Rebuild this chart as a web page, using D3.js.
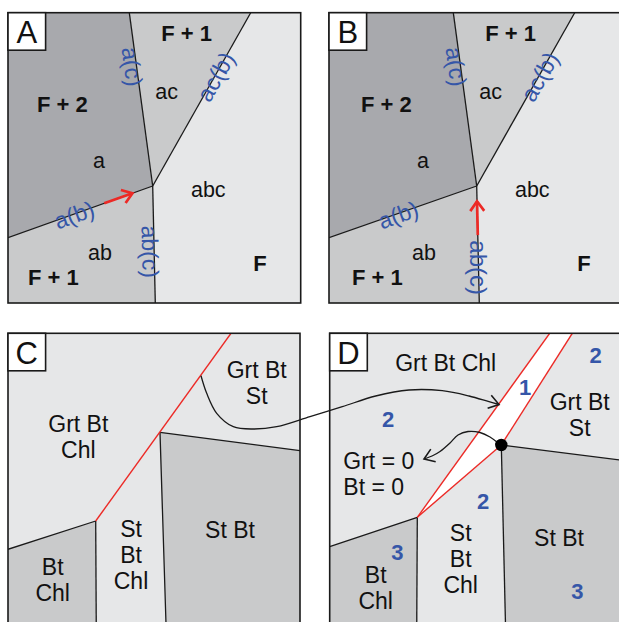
<!DOCTYPE html>
<html><head><meta charset="utf-8">
<script src="https://cdn.jsdelivr.net/npm/d3@7"></script>
<style>html,body{margin:0;padding:0;background:#fff}svg{display:block}</style>
</head><body>
<svg id="fig" width="619" height="622"></svg>
<script>
// ---------- palette ----------
const FILL = {dark: "#a8a9ad", mid: "#c9cacb", light: "#e6e7e8", white: "#ffffff"};
const INK = "#1a1a1a", RED = "#ec2a26", BLUE = "#3556a8";
const FONT = "'Liberation Sans', Arial, Helvetica, sans-serif";

// ---------- panels A and B: invariant point with four fields (local units) ----------
const abPanels = [
  {id: "A", ox: 8,   oy: 12.7, boxLeft: 0,  boxRight: 292.7},
  {id: "B", ox: 332, oy: 12.7, boxLeft: -3, boxRight: 310}
];
const abSize = [292.7, 290.3];
const triplePt = [144.7, 173.3];
const acTop = [121.3, 0];
const acbTop = [242.7, 0];
const abLeft = [0, 225];
const abBottom = [147.3, 290.3];

// field labels (shared by A and B)
const abFieldLabels = [
  {t: "F + 1", x: 178.7, y: 28,    bold: true},
  {t: "F + 2", x: 54.3,  y: 99,    bold: true},
  {t: "a",     x: 91,    y: 155.6, bold: false},
  {t: "ac",    x: 158.7, y: 86.6,  bold: false},
  {t: "abc",   x: 200.3, y: 184,   bold: false},
  {t: "ab",    x: 92,    y: 247.3, bold: false},
  {t: "F + 1", x: 45.3,  y: 272.3, bold: true},
  {t: "F",     x: 252,   y: 258,   bold: true}
];
// reaction labels (centre, angle in degrees, font size)
const abReactionLabels = {
  A: [
    {t: "a(c)",  x: 124.2, y: 54,    a: 82.3,  s: 23},
    {t: "ac(b)", x: 207.8, y: 64,    a: -60.5, s: 23},
    {t: "a(b)",  x: 66.2,  y: 202.3, a: -19.7, s: 23},
    {t: "ab(c)", x: 142,   y: 239,   a: 88.7,  s: 23}
  ],
  B: [
    {t: "a(c)",  x: 124.2, y: 54,    a: 82.3,  s: 23},
    {t: "ac(b)", x: 207.8, y: 64,    a: -60.5, s: 23},
    {t: "a(b)",  x: 66.2,  y: 202.3, a: -19.7, s: 23},
    {t: "ab(c)", x: 146,   y: 255,   a: 90,    s: 24}
  ]
};
// red arrows: segment along a reaction line, given as start/end fractions of it
const abArrows = {
  A: {from: abLeft,   to: triplePt, t0: 0.665, t1: 0.86},
  B: {from: abBottom, to: triplePt, t0: 0.58,  t1: 0.87}
};

// ---------- panel C: Grt-Bt-St-Chl field diagram (local units) ----------
const cOrigin = [8, 333.3];
const cSize = [292, 300];
const cRedTop = [223, 0], cRedBot = [87.7, 187.7];
const cBtChlLeft = [0, 216];
const cVertBot = [88.3, 300];
const cStBtTop = [152, 99], cStBtRight = [292, 117.4], cStBtBot = [158.3, 300];
const cLabels = [
  {lines: ["Grt Bt", "Chl"],     x: 70.3,  y: 98.7},
  {lines: ["Grt Bt", "St"],      x: 248.7, y: 45},
  {lines: ["St", "Bt", "Chl"],   x: 123,   y: 203.4},
  {lines: ["St Bt"],             x: 222,   y: 204.4},
  {lines: ["Bt", "Chl"],         x: 44.7,  y: 241.7}
];

// ---------- panel D: same diagram with the Grt+Bt-absent strip (local units) ----------
const dOrigin = [329.7, 333.3];
const dSize = [292, 300];
const dRedLTop = [220, 0], dRedRTop = [242.6, 0];
const dApex = [87.6, 184], dDot = [171.6, 111.7];
const dBtChlLeft = [0, 213.4];
const dVertBot = [87, 300];
const dStBtRight = [292, 127], dStBtBot = [176, 300];
const dLabels = [
  {lines: ["Grt Bt Chl"],        x: 116,   y: 37.7},
  {lines: ["Grt Bt", "St"],      x: 250,   y: 76.7},
  {lines: ["St", "Bt", "Chl"],   x: 131,   y: 207.4},
  {lines: ["St Bt"],             x: 229.3, y: 212.7},
  {lines: ["Bt", "Chl"],         x: 46,    y: 250}
];
const dZeroLabels = {lines: ["Grt = 0", "Bt = 0"], x: 13.6, y: 136};
const dNumbers = [
  {t: "2", x: 266,   y: 30},
  {t: "1", x: 195.3, y: 61.7},
  {t: "2", x: 58.3,  y: 94},
  {t: "2", x: 153.3, y: 176},
  {t: "3", x: 67.6,  y: 226.7},
  {t: "3", x: 247.6, y: 266}
];

// linking curve from panel C into panel D (panel-C local units)
const linkCurve = [
  [193, 42.4], [198.7, 60], [208.7, 80], [225.3, 93.4], [245.3, 95.7],
  [268.7, 93.4], [302, 83.4], [334.3, 73.4], [367.7, 62.7], [401, 56.7],
  [434.3, 57.4], [461, 62.7], [481, 68.4], [491, 71.2]
];
// curve from the invariant point to the "Grt = 0 / Bt = 0" note (panel-D local units)
const zeroCurve = [
  [168.3, 109.7], [160.3, 103.7], [150.3, 99.2], [138.3, 98.2], [128.3, 101.7],
  [120.3, 109.7], [110.3, 118.2], [103.3, 122.2], [94.3, 125.7]
];

// ---------- drawing ----------
const svg = d3.select("#fig");

function panelScales(ox, oy) {
  const x = d3.scaleLinear().domain([0, 100]).range([ox, ox + 100]);
  const y = d3.scaleLinear().domain([0, 100]).range([oy, oy + 100]);
  return {x, y};
}
function polyPath(sc, pts) {
  return d3.line().x(d => sc.x(d[0])).y(d => sc.y(d[1]))(pts) + "Z";
}
function seg(g, sc, p, q, color, w) {
  g.append("line")
    .attr("x1", sc.x(p[0])).attr("y1", sc.y(p[1]))
    .attr("x2", sc.x(q[0])).attr("y2", sc.y(q[1]))
    .attr("stroke", color).attr("stroke-width", w).attr("stroke-linecap", "butt");
}
function lerp(p, q, t) { return [p[0] + (q[0] - p[0]) * t, p[1] + (q[1] - p[1]) * t]; }
function arrowHead(g, sc, prev, tip, color, len, w, half) {
  const dx = sc.x(tip[0]) - sc.x(prev[0]), dy = sc.y(tip[1]) - sc.y(prev[1]);
  const ang = Math.atan2(dy, dx);
  const tx = sc.x(tip[0]), ty = sc.y(tip[1]);
  const a1 = ang + Math.PI - half, a2 = ang + Math.PI + half;
  g.append("path")
    .attr("d", `M${tx + len * Math.cos(a1)},${ty + len * Math.sin(a1)}L${tx},${ty}L${tx + len * Math.cos(a2)},${ty + len * Math.sin(a2)}`)
    .attr("fill", "none").attr("stroke", color).attr("stroke-width", w)
    .attr("stroke-linejoin", "miter").attr("stroke-linecap", "butt");
}
function panelBox(g, sc, x0, w, h, letter) {
  g.append("rect")
    .attr("x", sc.x(x0)).attr("y", sc.y(0))
    .attr("width", w).attr("height", h)
    .attr("fill", "none").attr("stroke", INK).attr("stroke-width", 1.6);
  g.append("rect")
    .attr("x", sc.x(x0)).attr("y", sc.y(0))
    .attr("width", 37.6).attr("height", 37.5)
    .attr("fill", "#fff").attr("stroke", INK).attr("stroke-width", 1.6);
  g.append("text")
    .attr("x", sc.x(x0) + 18.8).attr("y", sc.y(0) + 30.5)
    .attr("text-anchor", "middle")
    .attr("font-family", FONT).attr("font-size", 31)
    .attr("fill", "#111").text(letter);
}
function multiLabel(g, sc, d, size, lineGap, anchor) {
  const t = g.append("text")
    .attr("font-family", FONT).attr("font-size", size)
    .attr("fill", "#111").attr("text-anchor", anchor || "middle");
  d.lines.forEach((s, i) => {
    t.append("tspan").attr("x", sc.x(d.x)).attr("y", sc.y(d.y + i * lineGap)).text(s);
  });
}

// panels A and B
abPanels.forEach(p => {
  const sc = panelScales(p.ox, p.oy);
  const g = svg.append("g").attr("class", "panel-" + p.id);
  const L = p.boxLeft, R = p.boxRight, H = abSize[1];
  const clipId = "clip" + p.id;
  g.append("clipPath").attr("id", clipId).append("rect")
    .attr("x", sc.x(L)).attr("y", sc.y(0)).attr("width", R - L).attr("height", H);
  const f = g.append("g").attr("clip-path", `url(#${clipId})`);

  const fields = [
    {fill: FILL.light, pts: [[L, 0], [R, 0], [R, H], [L, H]]},
    {fill: FILL.dark,  pts: [[L, 0], acTop, triplePt, [abLeft[0] + L, abLeft[1]]]},
    {fill: FILL.mid,   pts: [acTop, acbTop, triplePt]},
    {fill: FILL.mid,   pts: [[abLeft[0] + L, abLeft[1]], triplePt, abBottom, [L, H]]}
  ];
  f.selectAll("path.field").data(fields).join("path")
    .attr("class", "field").attr("d", d => polyPath(sc, d.pts)).attr("fill", d => d.fill);

  [[acTop, triplePt], [acbTop, triplePt], [[abLeft[0] + L, abLeft[1]], triplePt], [triplePt, abBottom]]
    .forEach(([a, b]) => seg(f, sc, a, b, INK, 1.3));

  // red arrow
  const ar = abArrows[p.id];
  const tail = lerp(ar.from, ar.to, ar.t0), tip = lerp(ar.from, ar.to, ar.t1);
  seg(f, sc, tail, tip, RED, 2.7);
  arrowHead(f, sc, tail, tip, RED, 12, 2.7, 0.62);

  // labels
  g.selectAll("text.field").data(abFieldLabels).join("text")
    .attr("class", "field")
    .attr("x", d => sc.x(d.x)).attr("y", d => sc.y(d.y))
    .attr("text-anchor", "middle")
    .attr("font-family", FONT)
    .attr("font-size", d => d.bold ? 22 : 21.5)
    .attr("font-weight", d => d.bold ? "bold" : "normal")
    .attr("fill", "#111").text(d => d.t);

  g.selectAll("text.rx").data(abReactionLabels[p.id]).join("text")
    .attr("class", "rx")
    .attr("transform", d => `translate(${sc.x(d.x)},${sc.y(d.y)}) rotate(${d.a})`)
    .attr("text-anchor", "middle").attr("dominant-baseline", "central")
    .attr("font-family", FONT).attr("font-size", d => d.s)
    .attr("fill", BLUE).text(d => d.t);

  panelBox(g, sc, L, R - L, H, p.id);
});

// panel C
{
  const sc = panelScales(cOrigin[0], cOrigin[1]);
  const g = svg.append("g").attr("class", "panel-C");
  const [W, H] = cSize;
  g.append("clipPath").attr("id", "clipC").append("rect")
    .attr("x", sc.x(0)).attr("y", sc.y(0)).attr("width", W).attr("height", H);
  const f = g.append("g").attr("clip-path", "url(#clipC)");
  const fields = [
    {fill: FILL.light, pts: [[0, 0], [W, 0], [W, H], [0, H]]},
    {fill: FILL.mid,   pts: [cStBtTop, cStBtRight, [W, H], cStBtBot]},
    {fill: FILL.mid,   pts: [cBtChlLeft, cRedBot, cVertBot, [0, H]]}
  ];
  f.selectAll("path.field").data(fields).join("path")
    .attr("class", "field").attr("d", d => polyPath(sc, d.pts)).attr("fill", d => d.fill);
  [[cBtChlLeft, cRedBot], [cRedBot, cVertBot], [cStBtTop, cStBtRight], [cStBtTop, cStBtBot]]
    .forEach(([a, b]) => seg(f, sc, a, b, INK, 1.3));
  seg(f, sc, cRedTop, cRedBot, RED, 1.4);
  cLabels.forEach(d => multiLabel(g, sc, d, 23, 26));
  panelBox(g, sc, 0, W, H, "C");
}

// panel D
{
  const sc = panelScales(dOrigin[0], dOrigin[1]);
  const g = svg.append("g").attr("class", "panel-D");
  const [W, H] = dSize;
  g.append("clipPath").attr("id", "clipD").append("rect")
    .attr("x", sc.x(0)).attr("y", sc.y(0)).attr("width", W).attr("height", H);
  const f = g.append("g").attr("clip-path", "url(#clipD)");
  const fields = [
    {fill: FILL.light, pts: [[0, 0], [W, 0], [W, H], [0, H]]},
    {fill: FILL.white, pts: [dRedLTop, dRedRTop, dDot, dApex]},
    {fill: FILL.mid,   pts: [dDot, dStBtRight, [W, H], dStBtBot]},
    {fill: FILL.mid,   pts: [dBtChlLeft, dApex, dVertBot, [0, H]]}
  ];
  f.selectAll("path.field").data(fields).join("path")
    .attr("class", "field").attr("d", d => polyPath(sc, d.pts)).attr("fill", d => d.fill);
  [[dBtChlLeft, dApex], [dApex, dVertBot], [dDot, dStBtRight], [dDot, dStBtBot]]
    .forEach(([a, b]) => seg(f, sc, a, b, INK, 1.3));
  seg(f, sc, dRedLTop, dApex, RED, 1.4);
  seg(f, sc, dRedRTop, dDot, RED, 1.4);
  seg(f, sc, dDot, dApex, RED, 1.4);

  // curve from the invariant point to the note
  const line = d3.line().x(d => sc.x(d[0])).y(d => sc.y(d[1])).curve(d3.curveCatmullRom);
  f.append("path").attr("d", line(zeroCurve))
    .attr("fill", "none").attr("stroke", INK).attr("stroke-width", 1.3);
  const n = zeroCurve.length;
  arrowHead(f, sc, zeroCurve[n - 2], zeroCurve[n - 1], INK, 12, 1.6, 0.6);

  f.append("circle").attr("cx", sc.x(dDot[0])).attr("cy", sc.y(dDot[1])).attr("r", 6.2).attr("fill", "#000");

  dLabels.forEach(d => multiLabel(g, sc, d, 23, 26));
  multiLabel(g, sc, dZeroLabels, 23, 26, "start");
  g.selectAll("text.num").data(dNumbers).join("text")
    .attr("class", "num")
    .attr("x", d => sc.x(d.x)).attr("y", d => sc.y(d.y))
    .attr("text-anchor", "middle")
    .attr("font-family", FONT).attr("font-size", 22).attr("font-weight", "bold")
    .attr("fill", BLUE).text(d => d.t);
  panelBox(g, sc, 0, W, H, "D");
}

// link curve from C to D, drawn over both panels
{
  const sc = panelScales(cOrigin[0], cOrigin[1]);
  const line = d3.line().x(d => sc.x(d[0])).y(d => sc.y(d[1])).curve(d3.curveCatmullRom);
  svg.append("path").attr("d", line(linkCurve))
    .attr("fill", "none").attr("stroke", INK).attr("stroke-width", 1.3);
  const n = linkCurve.length;
  arrowHead(svg, sc, linkCurve[n - 2], linkCurve[n - 1], INK, 12, 1.6, 0.6);
}
</script>
</body></html>
